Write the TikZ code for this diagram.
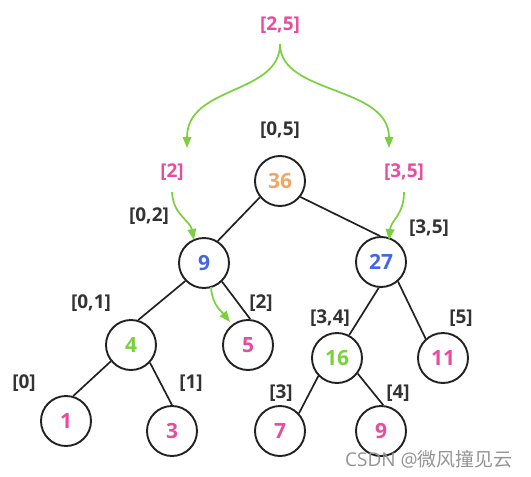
\documentclass[tikz,border=0pt]{standalone}
\usepackage{fontspec}
\setmainfont{Open Sans}[BoldFont={* Bold}]
\newfontfamily\cjk{Noto Sans CJK SC}
\usetikzlibrary{arrows.meta}
\definecolor{pinkc}{HTML}{E84C9F}
\definecolor{orangec}{HTML}{F2A661}
\definecolor{bluec}{HTML}{4466E4}
\definecolor{greenc}{HTML}{7AD03F}
\definecolor{labc}{HTML}{333333}
\definecolor{linec}{HTML}{222222}
\begin{document}
\begin{tikzpicture}[x=1pt,y=-1pt,
  tnode/.style={circle,draw=linec,line width=1.9pt,minimum size=50pt,inner sep=0pt,font=\fontsize{21}{24}\selectfont\bfseries},
  lab/.style={text=labc,font=\fontsize{19}{22}\selectfont\bfseries,inner sep=0pt},
  plab/.style={text=pinkc,font=\fontsize{19}{22}\selectfont\bfseries,inner sep=0pt},
  edge/.style={draw=linec,line width=1.7pt},
  garrow/.style={draw=greenc,line width=1.7pt,-{Triangle[length=11pt,width=8.5pt]}}]
\useasboundingbox (0,0) rectangle (531,477);
% tree nodes
\node[tnode,text=orangec] (n36) at (280,181) {36};
\node[tnode,text=bluec] (n9) at (204,263) {9};
\node[tnode,text=bluec] (n27) at (381,262) {27};
\node[tnode,text=greenc] (n4) at (131,345) {4};
\node[tnode,text=pinkc] (n5) at (248,345) {5};
\node[tnode,text=greenc] (n16) at (337,358) {16};
\node[tnode,text=pinkc] (n11) at (443,358) {11};
\node[tnode,text=pinkc] (n1) at (66,421) {1};
\node[tnode,text=pinkc] (n3) at (172,431) {3};
\node[tnode,text=pinkc] (n7) at (280,431) {7};
\node[tnode,text=pinkc] (n9b) at (381,431) {9};
% edges
\draw[edge] (n36.219) -- (n9.58);
\draw[edge] (n36.322) -- (n27.92);
\draw[edge] (n9.224) -- (n4.74);
\draw[edge] (n9.314) -- (n5.85);
\draw[edge] (n27.265) -- (n16.62);
\draw[edge] (n27.311) -- (n11.132);
\draw[edge] (n4.219) -- (n1.74);
\draw[edge] (n4.317) -- (n3.90);
\draw[edge] (n16.224) -- (n7.43);
\draw[edge] (n16.323) -- (n9b.85);
% interval labels
\node[lab] (l05) at (280,130) {[0,5]};
\node[lab] (l02) at (149,216) {[0,2]};
\node[lab] (l35) at (429,228) {[3,5]};
\node[lab] (l01) at (91,303) {[0,1]};
\node[lab] (l2) at (261,303) {[2]};
\node[lab] (l34) at (330,318) {[3,4]};
\node[lab] (l5) at (461,318) {[5]};
\node[lab] (l0) at (24,383) {[0]};
\node[lab] (l1) at (191,383) {[1]};
\node[lab] (l3) at (281,393) {[3]};
\node[lab] (l4) at (398,393) {[4]};
% query labels
\node[plab] (q25) at (280,25) {[2,5]};
\node[plab] (q2) at (172,172) {[2]};
\node[plab] (q35) at (404,172) {[3,5]};
% arrow ends
\coordinate (s25) at (280,44);
\coordinate (tl) at (187,148);
\coordinate (tr) at (389,148);
\coordinate (s2) at (172,192);
\coordinate (t9) at (194,240);
\coordinate (s35) at (404,192);
\coordinate (t27) at (389,240);
\coordinate (s9) at (211,287);
\coordinate (t5) at (230,322);
\draw[garrow] (s25) .. controls (280,95) and (187,85) .. (tl);
\draw[garrow] (s25) .. controls (280,95) and (389,85) .. (tr);
\draw[garrow] (s2) .. controls (173,215) and (190,220) .. (t9);
\draw[garrow] (s35) .. controls (404,215) and (391,220) .. (t27);
\draw[garrow] (s9) .. controls (212,305) and (222,312) .. (t5);
% watermark
\node[text=black!42,font=\fontsize{19}{21}\selectfont,inner sep=0pt,anchor=west] (wm) at (345,459) {CSDN @{\cjk 微风撞见云}};
\end{tikzpicture}
\end{document}
